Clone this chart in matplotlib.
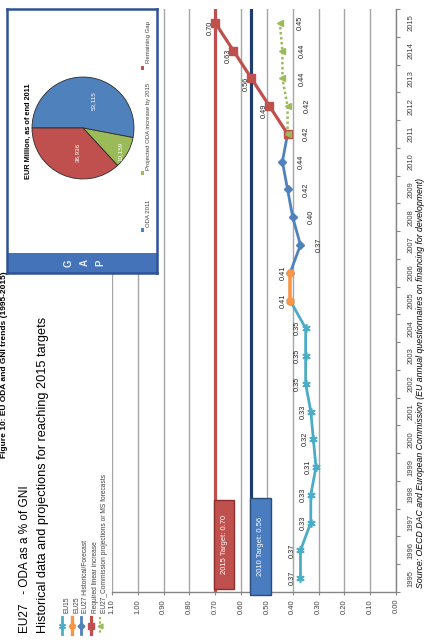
import matplotlib
matplotlib.use("Agg")
import matplotlib.pyplot as plt
from matplotlib.patches import Rectangle
from matplotlib.lines import Line2D
import numpy as np

# ---------------- data ----------------
years = list(range(1995, 2016))
eu15_years = list(range(1995, 2006))
eu15_vals = [0.37, 0.37, 0.33, 0.33, 0.31, 0.32, 0.33, 0.35, 0.35, 0.35, 0.41]
eu25_years = [2005, 2006]
eu25_vals = [0.41, 0.41]
eu27_years = [2006, 2007, 2008, 2009, 2010, 2011]
eu27_vals = [0.41, 0.37, 0.40, 0.42, 0.44, 0.42]
req_years = [2011, 2012, 2013, 2014, 2015]
req_vals = [0.42, 0.49, 0.56, 0.63, 0.70]
proj_years = [2011, 2012, 2013, 2014, 2015]
proj_vals = [0.42, 0.42, 0.44, 0.44, 0.45]
target_2015 = 0.70
target_2010 = 0.56
value_ticks = [0.00, 0.10, 0.20, 0.30, 0.40, 0.50, 0.60, 0.70, 0.80, 0.90, 1.00, 1.10]
legend_labels = ["EU15", "EU25", "EU27 Historical/Forecast", "Required linear increase",
                 "EU27_Commission projections or MS forecasts"]
pie_labels = ["ODA 2011", "Projected ODA increase by 2015", "Remaining Gap"]
pie_vals = [53115, 10159, 36936]
pie_text = ["53,115", "10,159", "36,936"]

# ---------------- styling ----------------
W, H, DPI = 427, 644, 100
C_TEAL = "#4bacc6"
C_ORANGE = "#f79646"
C_BLUE = "#4f81bd"
C_RED = "#c0504d"
C_GREEN = "#9bbb59"
C_NAVY = "#1f3c6e"
FONT = ["Liberation Sans", "DejaVu Sans"]
plt.rcParams["font.family"] = FONT


def fx(X):
    return X / W


def fy(Y):
    return 1 - Y / H


fig = plt.figure(figsize=(W / DPI, H / DPI), dpi=DPI)
fig.patch.set_facecolor("white")

# ---------------- main axes (chart rotated 90° CCW) ----------------
top_px, bot_px, left_px, right_px = 9, 592, 112, 396
ax = fig.add_axes([fx(left_px), fy(bot_px), (right_px - left_px) / W, (bot_px - top_px) / H])
ax.set_xlim(1.10, 0.0)
ax.set_ylim(1994.5, 2015.5)
ax.set_xticks(value_ticks)
ax.set_xticklabels([f"{v:.2f}" for v in value_ticks], rotation=90, fontsize=5.5, color="#404040")
ax.xaxis.grid(True, color="#a6a6a6", lw=1.0, zorder=0)
ax.set_axisbelow(True)
ax.tick_params(axis="x", length=2, width=0.8, color="#868686", pad=3)

ax.yaxis.tick_right()
ax.set_yticks(np.arange(1994.5, 2016.0, 1.0))
ax.set_yticklabels([])
ax.set_yticks(years, minor=True)
ax.set_yticklabels([str(y) for y in years], minor=True, rotation=90, fontsize=5.5,
                   color="#404040", va="center")
ax.tick_params(axis="y", which="major", length=3, width=0.8, color="#868686", direction="out")
ax.tick_params(axis="y", which="minor", length=0, pad=8)
for s in ["left", "top"]:
    ax.spines[s].set_visible(False)
for s in ["right", "bottom"]:
    ax.spines[s].set_color("#868686")
    ax.spines[s].set_linewidth(1.0)

# target lines
ax.axvline(target_2015, color=C_RED, lw=2.3, zorder=2)
ax.axvline(target_2010, color=C_NAVY, lw=2.3, zorder=2)
# target boxes
ax.add_patch(Rectangle((target_2015 + 0.005, 1994.6), -0.078, 3.2, facecolor=C_RED,
                       edgecolor="#8b2e2c", lw=1.0, zorder=3, clip_on=False))
ax.text(target_2015 - 0.034, 1996.2, f"2015 Target: {target_2015:.2f}", rotation=90,
        color="white", fontsize=5.5, ha="center", va="center", zorder=4)
ax.add_patch(Rectangle((target_2010 + 0.005, 1994.4), -0.082, 3.5, facecolor="#4a7cc0",
                       edgecolor="#2c4d75", lw=1.0, zorder=3, clip_on=False))
ax.text(target_2010 - 0.036, 1996.15, f"2010 Target: {target_2010:.2f}", rotation=90,
        color="white", fontsize=5.5, ha="center", va="center", zorder=4)

# series
ax.plot(eu15_vals, eu15_years, color=C_TEAL, lw=2.0, marker=(6, 2, 0), ms=6, mew=1.2,
        zorder=5)
ax.plot(eu25_vals, eu25_years, color=C_ORANGE, lw=2.6, marker="o", ms=5, zorder=6)
ax.plot(eu27_vals, eu27_years, color=C_BLUE, lw=2.0, marker="D", ms=4.5, zorder=5)
ax.plot(req_vals, req_years, color=C_RED, lw=2.3, marker="s", ms=5.5, zorder=6)
ax.plot(proj_vals, proj_years, color=C_GREEN, lw=1.8, ls=(0, (1, 1)), marker="<", ms=4.5,
        zorder=7)


def lab(vals, yrs, dx, dy, skip_first=False):
    for i, (v, y) in enumerate(zip(vals, yrs)):
        if skip_first and i == 0:
            continue
        ax.annotate(f"{v:.2f}", (v, y), xytext=(dx, dy), textcoords="offset pixels",
                    rotation=90, ha="center", va="center", fontsize=5.3, color="#262626",
                    zorder=8)


lab(eu15_vals[:-1], eu15_years[:-1], -8, 0)
lab(eu25_vals, eu25_years, -7, 0)
lab(eu27_vals, eu27_years, 19, 0, skip_first=True)
lab(proj_vals, proj_years, 20, 0, skip_first=True)
lab(req_vals, req_years, -5, -5, skip_first=True)

# ---------------- legend (manual, rotated) ----------------
leg_x = [62, 72, 81, 91, 100]
leg_style = [
    dict(color=C_TEAL, lw=2.0, marker=(6, 2, 0), ms=5, mew=1.0),
    dict(color=C_ORANGE, lw=2.4, marker="o", ms=4),
    dict(color=C_BLUE, lw=2.0, marker="D", ms=3.5),
    dict(color=C_RED, lw=2.3, marker="s", ms=4.5),
    dict(color=C_GREEN, lw=1.6, ls=(0, (1, 1)), marker="<", ms=3.5),
]
for X, st, txt in zip(leg_x, leg_style, legend_labels):
    st = dict(st)
    mk = st.pop("marker")
    ms = st.pop("ms")
    mew = st.pop("mew", 1.0)
    fig.add_artist(Line2D([fx(X), fx(X)], [fy(617), fy(634)], transform=fig.transFigure, **st))
    fig.add_artist(Line2D([fx(X)], [fy(625.5)], transform=fig.transFigure, marker=mk, ms=ms,
                          mew=mew, color=st["color"], lw=0))
    fig.text(fx(X + 5), fy(613), txt, rotation=90, rotation_mode="anchor", ha="left",
             va="center", fontsize=4.8, color="#404040")

# ---------------- titles ----------------
fig.text(fx(25), fy(633), "EU27   - ODA as a % of GNI", rotation=90, rotation_mode="anchor",
         ha="left", va="center", fontsize=8.5, color="black")
fig.text(fx(43), fy(633), "Historical data and projections for reaching 2015 targets",
         rotation=90, rotation_mode="anchor", ha="left", va="center", fontsize=9.2,
         color="black")
fig.text(fx(4.2), fy(458), "Figure 10: EU ODA and GNI trends (1995-2015)", rotation=90,
         rotation_mode="anchor", ha="left", va="center", fontsize=6.0, fontweight="bold",
         color="black")
fig.text(fx(421), fy(588),
         "Source: OECD DAC and European Commission (EU annual questionnaires on financing for development)",
         rotation=90, rotation_mode="anchor", ha="left", va="center", fontsize=6.3,
         style="italic", color="black")

# ---------------- pie inset ----------------
frame = fig.add_axes([fx(7), fy(273), (157 - 7) / W, (273 - 9) / H])
frame.set_zorder(5)
frame.set_facecolor("white")
frame.set_xticks([])
frame.set_yticks([])
for s in frame.spines.values():
    s.set_color("#2e5395")
    s.set_linewidth(1.8)
frame.add_patch(Rectangle((0, 0), 1, 20 / 264, transform=frame.transAxes,
                          facecolor="#4473b9", edgecolor="none"))
for X, ch in zip([69, 85, 100], ["G", "A", "P"]):
    fig.text(fx(X), fy(263), ch, rotation=90, ha="center", va="center", fontsize=7,
             fontweight="bold", color="#e6edf7", zorder=10)

pax = fig.add_axes([fx(31), fy(180), 104 / W, 104 / H])
pax.set_zorder(6)
pax.pie(pie_vals, colors=[C_BLUE, C_GREEN, C_RED], startangle=180, counterclock=False,
        wedgeprops=dict(edgecolor="#2b2b2b", linewidth=0.6))
pax.set_xlim(-1.02, 1.02)
pax.set_ylim(-1.02, 1.02)
pie_lab_pos = [(0.21, 0.54), (0.74, -0.45), (-0.10, -0.48)]
for (px_, py_), t in zip(pie_lab_pos, pie_text):
    pax.text(px_, py_, t, rotation=90, ha="center", va="center", fontsize=4.5, color="white")

fig.text(fx(28), fy(131), "EUR Million, as of end 2011", rotation=90, ha="center", va="center",
         fontsize=5.3, fontweight="bold", color="black", zorder=10)
pleg = [(230, 227, C_BLUE), (173, 170, C_GREEN), (68, 63, C_RED)]
for (my, ty, c), t in zip(pleg, pie_labels):
    fig.add_artist(Rectangle((fx(141.5), fy(my + 1.5)), 3 / W, 3 / H, transform=fig.transFigure,
                             facecolor=c, edgecolor="none", zorder=10))
    fig.text(fx(149), fy(ty), t, rotation=90, rotation_mode="anchor", ha="left", va="center",
             fontsize=4.3, color="#404040", zorder=10)

fig.savefig("out.png", dpi=DPI)
